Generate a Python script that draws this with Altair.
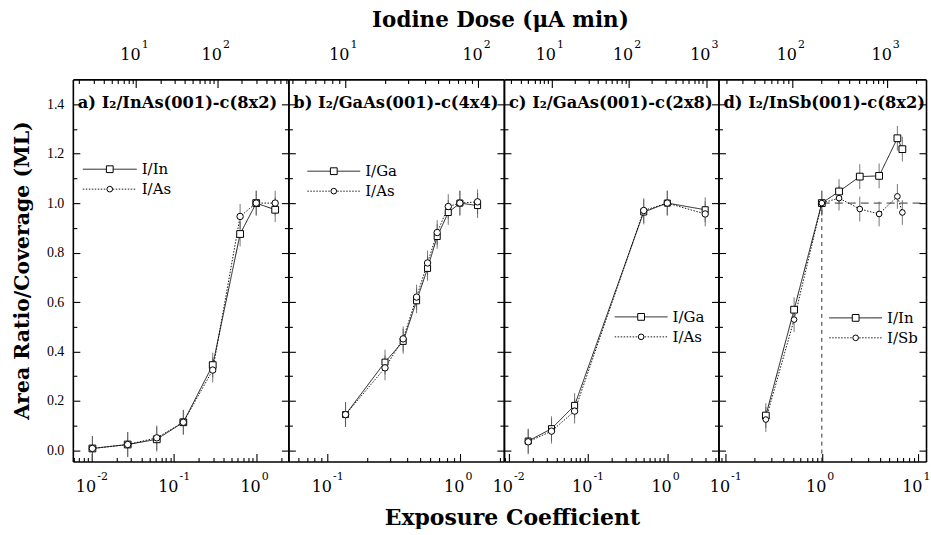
import altair as alt
import pandas as pd
import math

# ---------------- data ----------------
# a) I2/InAs(001)-c(8x2)
a_exposure = [0.0102, 0.0274, 0.0618, 0.130, 0.296, 0.637, 1.0, 1.70]
a_in = [0.008, 0.024, 0.045, 0.114, 0.345, 0.875, 1.0, 0.973]
a_as = [0.008, 0.024, 0.051, 0.114, 0.325, 0.946, 1.0, 1.0]

# b) I2/GaAs(001)-c(4x4)
b_exposure = [0.137, 0.272, 0.373, 0.471, 0.570, 0.674, 0.817, 1.0, 1.36]
b_ga = [0.145, 0.357, 0.441, 0.605, 0.736, 0.865, 0.962, 1.0, 0.99]
b_as = [0.145, 0.334, 0.451, 0.620, 0.758, 0.881, 0.986, 1.0, 1.005]

# c) I2/GaAs(001)-c(2x8)
c_exposure = [0.0177, 0.0348, 0.068, 0.505, 1.0, 3.0]
c_ga = [0.038, 0.088, 0.182, 0.964, 1.0, 0.973]
c_as = [0.035, 0.078, 0.159, 0.970, 1.0, 0.956]

# d) I2/InSb(001)-c(8x2)
d_exposure = [0.262, 0.515, 1.0, 1.51, 2.48, 3.94, 6.1, 6.87]
d_in = [0.141, 0.569, 1.0, 1.047, 1.107, 1.110, 1.262, 1.218]
d_sb = [0.125, 0.529, 1.0, 1.020, 0.976, 0.956, 1.027, 0.962]

error_bar = 0.05

panel_titles = ["a) I\u2082/InAs(001)-c(8x2)", "b) I\u2082/GaAs(001)-c(4x4)",
                "c) I\u2082/GaAs(001)-c(2x8)", "d) I\u2082/InSb(001)-c(8x2)"]
series_names = [["I/In", "I/As"], ["I/Ga", "I/As"], ["I/Ga", "I/As"], ["I/In", "I/Sb"]]

# axis domains (exposure coefficient bottom, iodine dose top)
x_domains = [[0.0059, 2.46], [0.0507, 2.15], [0.00875, 4.41], [0.0843, 12.1]]
dose_domains = [[1.665, 746.0], [3.755, 156.0], [2.42, 1449.0], [16.6, 2553.0]]
y_domain = [-0.045, 1.5]
y_ticks = [0.0, 0.1, 0.2, 0.3, 0.4, 0.5, 0.6, 0.7, 0.8, 0.9, 1.0, 1.1, 1.2, 1.3, 1.4]

# reference lines in panel d
d_ref_x = 1.0
d_ref_y = 1.0

# ---------------- layout / style ----------------
widths = [216, 216, 215, 208]
HEIGHT = 383
SERIF = "DejaVu Serif"
TICKFONT = "Liberation Serif"

legend_pos = [  # (line x0, x1, y of first row, row gap) in panel pixels
    (10, 64, 90, 20), (19, 72, 92, 20), (111, 164, 238, 20), (111, 164, 239, 20)]

E = "round(log(datum.value)/LN10)"
IS_MAJOR = f"abs(log(datum.value)/LN10 - {E}) < 0.001"
BASE_LABEL = f"{IS_MAJOR} ? '10' : ''"
EXP_LABEL = f"{IS_MAJOR} ? ({E} < 0 ? '-' + toString(abs({E})) : toString({E})) : ''"
LOG_TICKSIZE = {"expr": f"{IS_MAJOR} ? -8 : -4"}
Y_MAJOR = "round(datum.value*10) % 2 == 0"
Y_LABEL = f"{Y_MAJOR} ? format(datum.value, '.1f') : ''"
Y_TICKSIZE = {"expr": f"{Y_MAJOR} ? -7 : -4"}


def log_ticks(lo, hi):
    vals = []
    for k in range(math.floor(math.log10(lo)), math.ceil(math.log10(hi)) + 1):
        for m in range(1, 10):
            v = float(f"{m}e{k}")
            if lo <= v <= hi:
                vals.append(v)
    return vals


common_axis = dict(domainColor="black", domainWidth=1.6, tickColor="black", tickWidth=1.1,
                   labelColor="black", grid=False, labelOverlap=False, labelFlush=False,
                   labelBound=False)


def exp_axis(orient, values, padding):
    return alt.Axis(orient=orient, values=values, labelExpr=EXP_LABEL, ticks=False,
                    domain=False, labelAlign="left", labelOffset=5, labelPadding=padding,
                    labelFont=SERIF, labelFontSize=11, labelColor="black", grid=False,
                    labelOverlap=False, labelFlush=False, labelBound=False, title=None)


def make_panel(i, xs, v1, v2):
    s1, s2 = series_names[i]
    lo, hi = x_domains[i]
    tlo, thi = dose_domains[i]
    w = widths[i]
    rows = []
    for x, a, b in zip(xs, v1, v2):
        rows.append({"x": x, "v": a, "s": s1, "lo": a - error_bar, "hi": a + error_bar})
        rows.append({"x": x, "v": b, "s": s2, "lo": b - error_bar, "hi": b + error_bar})
    df = pd.DataFrame(rows)

    xscale = alt.Scale(type="log", domain=[lo, hi])
    yscale = alt.Scale(domain=y_domain, nice=False, zero=False)
    bticks = log_ticks(lo, hi)

    bottom_kw = dict(common_axis)
    if i == 1:
        bottom_kw.update(title="Exposure Coefficient", titleFont=SERIF, titleFontSize=22,
                         titleFontWeight="bold", titleColor="black", titleX=224, titleY=56,
                         titleAlign="center", titleBaseline="middle")
    else:
        bottom_kw.update(title=None)
    xaxis = alt.Axis(orient="bottom", values=bticks, labelExpr=BASE_LABEL,
                     tickSize=LOG_TICKSIZE, labelPadding=25, labelFont=SERIF,
                     labelFontSize=16, labelAlign="right", labelOffset=4, **bottom_kw)
    xaxis_exp = exp_axis("bottom", bticks, 9)

    left_kw = dict(common_axis)
    if i == 0:
        left_kw.update(title="Area Ratio/Coverage (ML)", titleFont=SERIF, titleFontSize=20.5,
                       titleFontWeight="bold", titleColor="black", titleX=-50, titleY=191,
                       titleAlign="center", titleBaseline="middle", titleAngle=270)
    else:
        left_kw.update(title=None)
    yaxis = alt.Axis(orient="left", values=y_ticks, labelExpr=Y_LABEL, labels=(i == 0),
                     tickSize=Y_TICKSIZE, labelPadding=16, labelFont=TICKFONT,
                     labelFontSize=14, **left_kw)

    X_main = alt.X("x:Q", scale=xscale, axis=xaxis)
    X_exp = alt.X("x:Q", scale=xscale, axis=xaxis_exp)
    X_none = alt.X("x:Q", scale=xscale, axis=None)
    dash = alt.StrokeDash("s:N", scale=alt.Scale(domain=[s1, s2], range=[[1, 0], [1.5, 1.5]]),
                          legend=None)
    shape = alt.Shape("s:N", scale=alt.Scale(domain=[s1, s2], range=["square", "circle"]),
                      legend=None)
    size = alt.Size("s:N", scale=alt.Scale(domain=[s1, s2], range=[46, 32]), legend=None)

    base = alt.Chart(df)
    err = base.mark_rule(color="#555", strokeWidth=0.8).encode(
        x=X_main, y=alt.Y("lo:Q", scale=yscale, axis=yaxis), y2="hi:Q")
    lines = base.mark_line(color="black", strokeWidth=0.9).encode(
        x=X_none, y=alt.Y("v:Q", scale=yscale, axis=yaxis), strokeDash=dash, detail="s:N")
    pts = base.mark_point(filled=False, fill="white", fillOpacity=1, color="black",
                          strokeWidth=1.0, opacity=1).encode(
        x=X_exp, y=alt.Y("v:Q", scale=yscale, axis=yaxis), shape=shape, size=size)
    layers = [err, lines, pts]

    if i == 3:
        refdf = pd.DataFrame({"x": [d_ref_x], "x2": [hi], "y": [d_ref_y],
                              "ylo": [y_domain[0]]})
        rb = alt.Chart(refdf)
        hrule = rb.mark_rule(color="black", strokeWidth=0.8, strokeDash=[8, 5]).encode(
            x=X_none, x2="x2:Q", y=alt.Y("y:Q", scale=yscale, axis=yaxis))
        vrule = rb.mark_rule(color="black", strokeWidth=0.8, strokeDash=[4, 4]).encode(
            x=X_none, y=alt.Y("ylo:Q", scale=yscale, axis=yaxis), y2="y:Q")
        layers = [hrule, vrule] + layers

    # manual legend
    lx0, lx1, ly, gap = legend_pos[i]
    one = pd.DataFrame({"k": [0]})
    for j, (nm, dsh, shp, sz) in enumerate([(s1, [1, 0], "square", 46),
                                             (s2, [1.5, 1.5], "circle", 32)]):
        yy = ly + j * gap
        lb = alt.Chart(one)
        layers.append(lb.mark_rule(color="black", strokeWidth=0.9, strokeDash=dsh).encode(
            x=alt.value(lx0), x2=alt.value(lx1), y=alt.value(yy)))
        layers.append(lb.mark_point(shape=shp, size=sz, filled=False, fill="white",
                                    fillOpacity=1, color="black", strokeWidth=1.0).encode(
            x=alt.value((lx0 + lx1) / 2), y=alt.value(yy)))
        layers.append(lb.mark_text(text=nm, font=SERIF, fontSize=15, align="left",
                                   baseline="middle", color="black").encode(
            x=alt.value(lx1 + 5), y=alt.value(yy)))

    # panel label
    layers.append(alt.Chart(one).mark_text(text=panel_titles[i], font=SERIF, fontSize=16.3,
                                           fontWeight="bold", align="left",
                                           baseline="middle", color="black").encode(
        x=alt.value(5), y=alt.value(24)))

    inner = alt.layer(*layers).resolve_axis(x="independent")

    # top (dose) axis + right y axis
    tticks = log_ticks(tlo, thi)
    top_kw = dict(common_axis)
    if i == 1:
        top_kw.update(title="Iodine Dose (\u03bcA min)", titleFont=SERIF, titleFontSize=21.5,
                      titleFontWeight="bold", titleColor="black", titleX=212, titleY=-59,
                      titleAlign="center", titleBaseline="middle")
    else:
        top_kw.update(title=None)
    topaxis = alt.Axis(orient="top", values=tticks, labelExpr=BASE_LABEL,
                       tickSize=LOG_TICKSIZE, labelPadding=25, labelFont=SERIF,
                       labelFontSize=16, labelAlign="right", labelOffset=4, **top_kw)
    right_kw = dict(common_axis)
    right_kw.update(title=None)
    raxis = alt.Axis(orient="right", values=y_ticks, labels=False, tickSize=Y_TICKSIZE,
                     **right_kw)
    topdf = pd.DataFrame({"dose": [tlo, thi], "yy": y_domain})
    tscale = alt.Scale(type="log", domain=[tlo, thi])
    top = alt.Chart(topdf).mark_point(opacity=0).encode(
        x=alt.X("dose:Q", scale=tscale, axis=topaxis),
        y=alt.Y("yy:Q", scale=yscale, axis=raxis))
    top_exp = alt.Chart(topdf).mark_point(opacity=0).encode(
        x=alt.X("dose:Q", scale=tscale, axis=exp_axis("top", tticks, 30)))

    return alt.layer(inner, top, top_exp).resolve_scale(x="independent").resolve_axis(
        y="independent").properties(width=w, height=HEIGHT)


panels = [make_panel(0, a_exposure, a_in, a_as), make_panel(1, b_exposure, b_ga, b_as),
          make_panel(2, c_exposure, c_ga, c_as), make_panel(3, d_exposure, d_in, d_sb)]

chart = alt.hconcat(*panels, spacing=0, bounds="flush").properties(
    padding={"left": 12, "top": 9, "right": 0, "bottom": 0},
    background="white",
).configure_view(stroke=None)

chart.save("out.html", embed_options={"renderer": "svg", "actions": False})
